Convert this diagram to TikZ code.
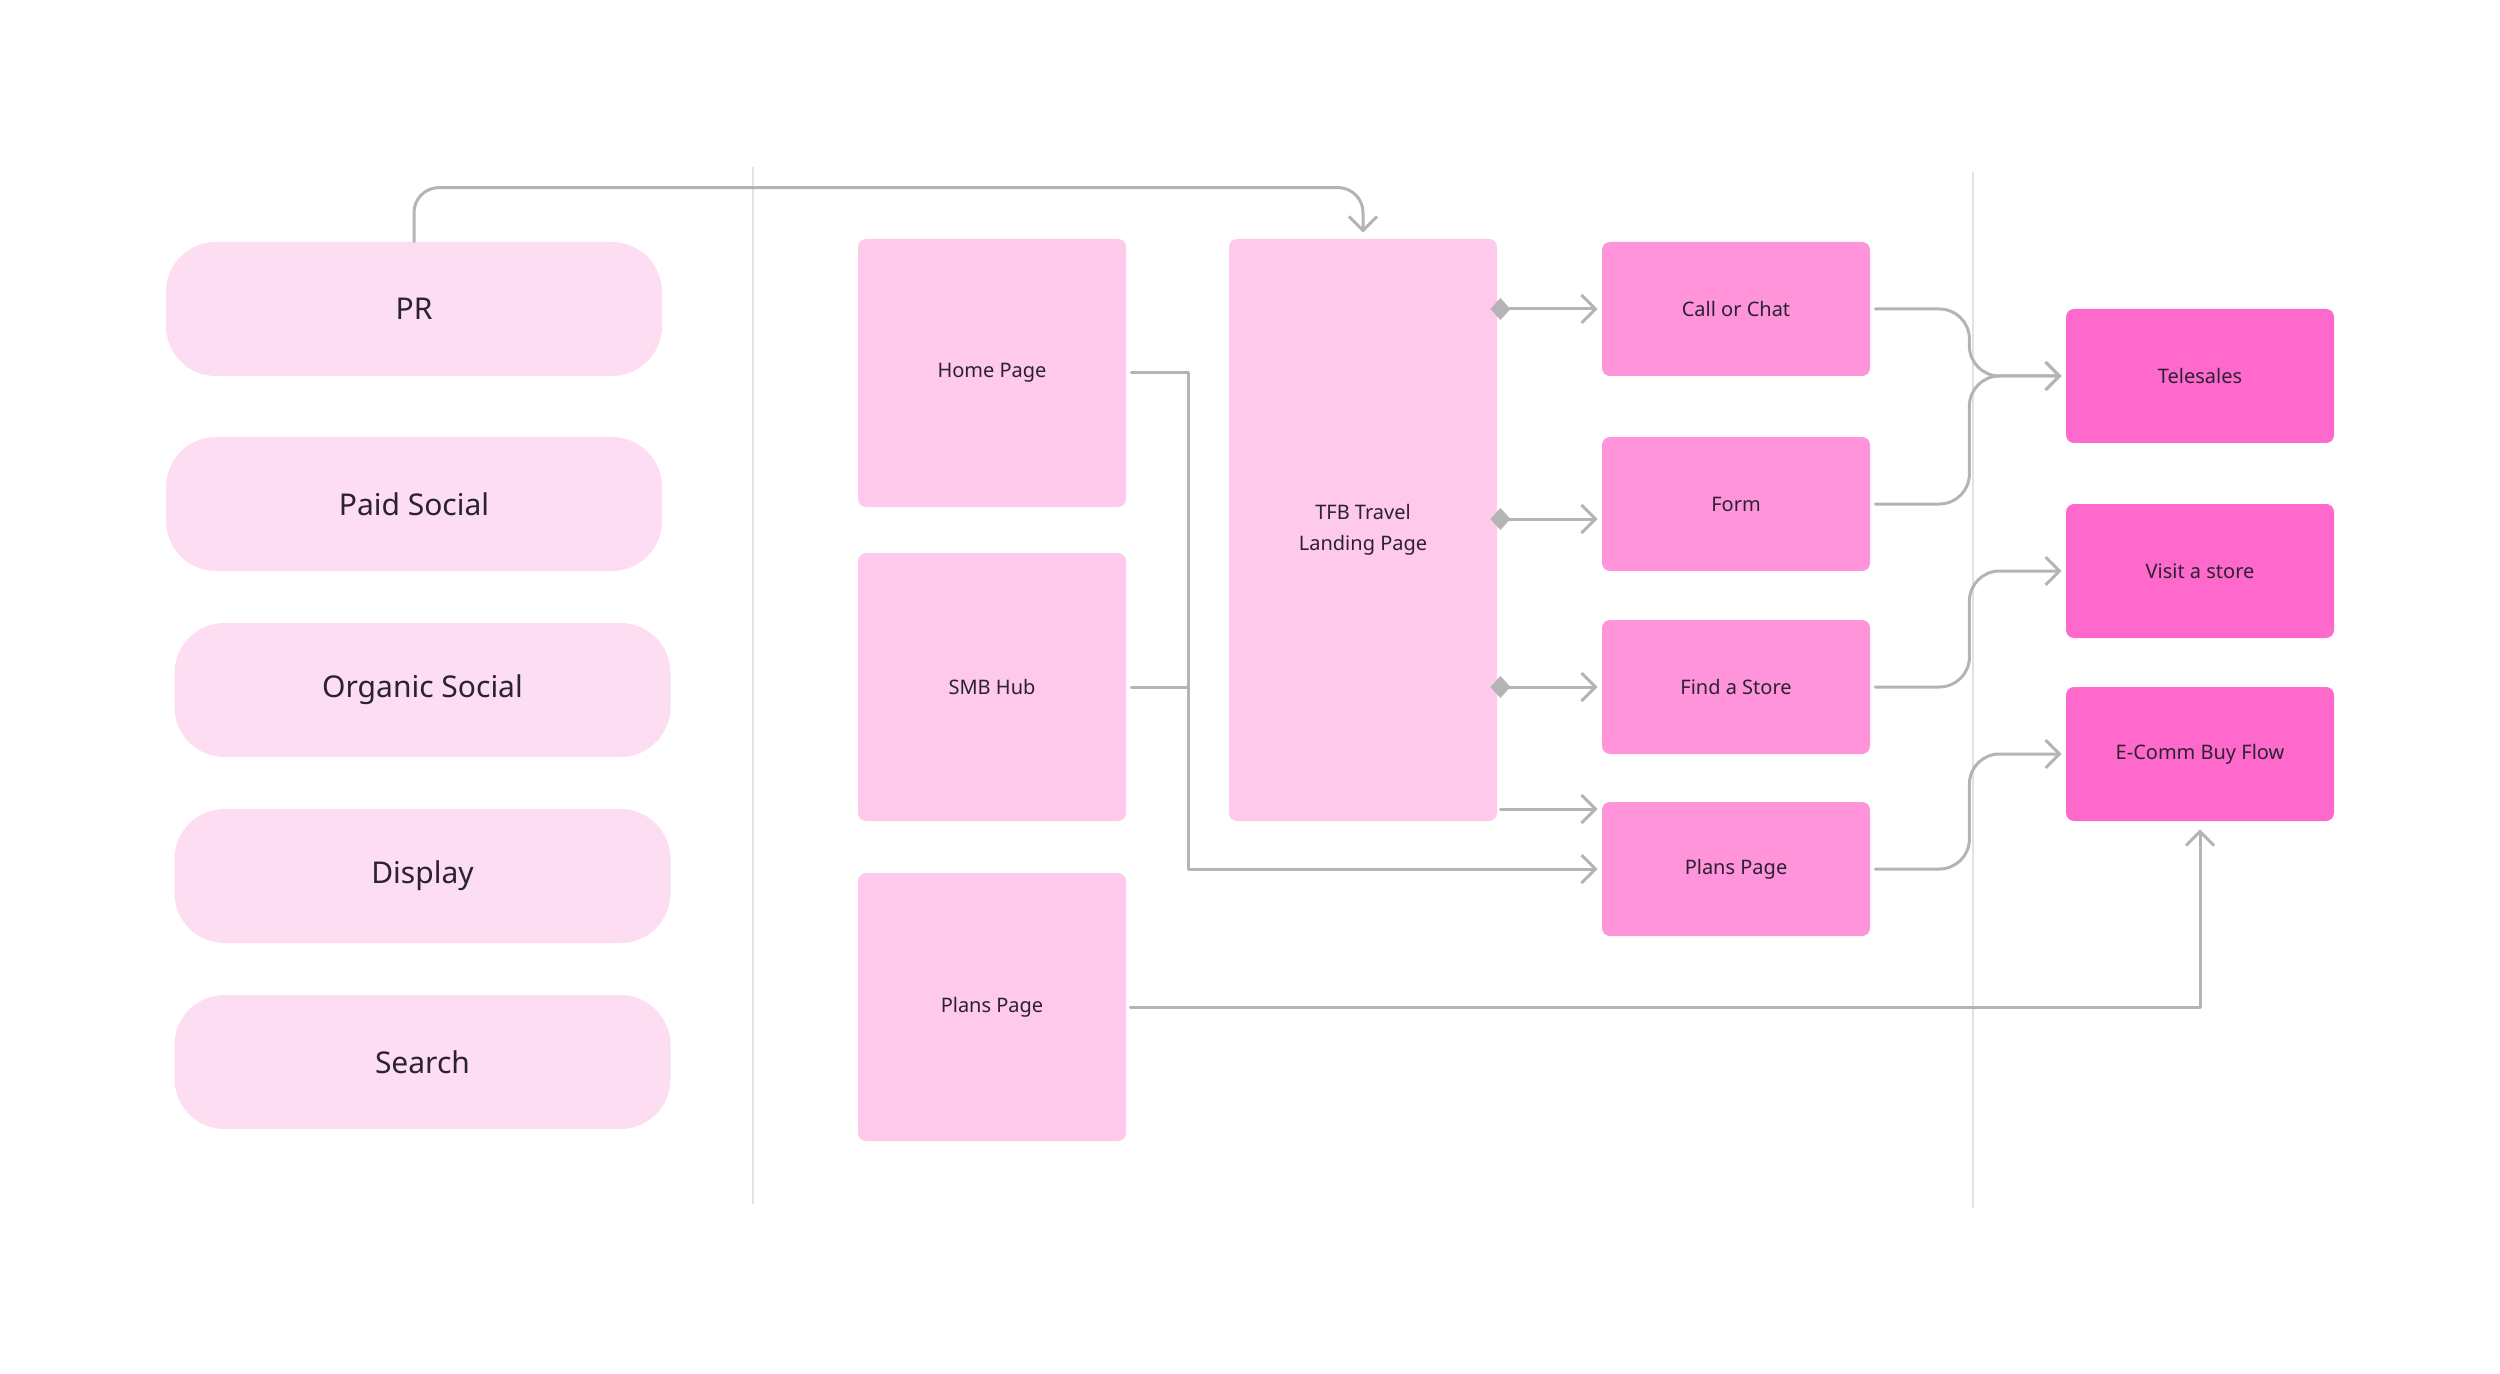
\documentclass[tikz,border=0pt]{standalone}
\usepackage{fontspec}
\setmainfont{Noto Sans}
\usetikzlibrary{arrows.meta}
\definecolor{pillc}{HTML}{FDDDF2}
\definecolor{pagec}{HTML}{FEC9EB}
\definecolor{actc}{HTML}{FF94DA}
\definecolor{destc}{HTML}{FF69CC}
\definecolor{linec}{HTML}{B4B4B4}
\definecolor{sepc}{HTML}{E2E2E2}
\definecolor{txtc}{HTML}{2A2233}
\begin{document}
\begin{tikzpicture}[x=0.5pt,y=-0.5pt,
  every node/.style={inner sep=0pt, text=txtc, align=center},
  pill/.style={fill=pillc, rounded corners=25pt, minimum width=248pt, minimum height=67pt, font=\fontsize{15}{18}\selectfont},
  pagebox/.style={fill=pagec, rounded corners=4pt, minimum width=134pt, minimum height=134pt, font=\fontsize{10}{15.5}\selectfont},
  actbox/.style={fill=actc, rounded corners=4pt, minimum width=134pt, minimum height=67pt, font=\fontsize{10}{15.5}\selectfont},
  destbox/.style={fill=destc, rounded corners=4pt, minimum width=134pt, minimum height=67pt, font=\fontsize{10}{15.5}\selectfont},
  conn/.style={draw=linec, line width=1.5pt, line cap=round, line join=round},
  arr/.style={conn, -{Straight Barb[length=7pt,width=14pt,line width=1.5pt]}},
  dia/.style={conn, {Diamond[length=10pt,width=11pt,fill=linec]}-{Straight Barb[length=7pt,width=14pt,line width=1.5pt]}},
  sep/.style={draw=sepc, line width=1.3pt}
]
\useasboundingbox (0,0) rectangle (2500,1374);

% separators
\draw[sep] (753,167) -- (753,1204);
\draw[sep] (1973,172) -- (1973,1208);

% sources
\node[pill] (pr) at (414,309) {PR};
\node[pill] (paid) at (414,504) {Paid Social};
\node[pill] (organic) at (422.5,690) {Organic Social};
\node[pill] (display) at (422.5,876) {Display};
\node[pill] (search) at (422.5,1062) {Search};

% pages
\node[pagebox] (home) at (992,373) {Home Page};
\node[pagebox] (smb) at (992,687) {SMB Hub};
\node[pagebox] (plansL) at (992,1007) {Plans Page};
\node[pagebox, minimum height=291pt] (tfb) at (1363,530) {TFB Travel\\Landing Page};

% actions
\node[actbox] (call) at (1736,309) {Call or Chat};
\node[actbox] (form) at (1736,504) {Form};
\node[actbox] (find) at (1736,687) {Find a Store};
\node[actbox] (plansR) at (1736,869) {Plans Page};

% destinations
\node[destbox] (tele) at (2200,376) {Telesales};
\node[destbox] (visit) at (2200,571) {Visit a store};
\node[destbox] (ecomm) at (2200,754) {E-Comm Buy Flow};

% PR to TFB
\draw[arr, rounded corners=12.5pt] (pr.north) -- ++(0,27pt) -| ([yshift=3pt]tfb.north);

% Home / SMB bus to Plans Page
\draw[arr] ([xshift=2.5pt]home.east) -- ++(28.5pt,0) |- ([xshift=-2pt]plansR.west);
\draw[conn] ([xshift=2.5pt]smb.east) -- ++(28.5pt,0);

% TFB to actions
\coordinate (formin) at ([yshift=-7.5pt]form.west);
\coordinate (plansin) at ([yshift=30pt]plansR.west);
\draw[dia] ([xshift=-3.5pt]tfb.east |- call.west) -- ([xshift=-2pt]call.west);
\draw[dia] ([xshift=-3.5pt]tfb.east |- formin) -- ([xshift=-2pt]formin);
\draw[dia] ([xshift=-3.5pt]tfb.east |- find.west) -- ([xshift=-2pt]find.west);
\draw[arr] ([xshift=1.5pt]tfb.east |- plansin) -- ([xshift=-2pt]plansin);

% actions to destinations
\draw[arr, rounded corners=15pt] ([xshift=2.5pt]call.east) -- ++(47pt,0) |- ([xshift=-2pt]tele.west);
\draw[arr, rounded corners=15pt] ([xshift=2.5pt]form.east) -- ++(47pt,0) |- ([xshift=-2pt]tele.west);
\draw[arr, rounded corners=15pt] ([xshift=2.5pt]find.east) -- ++(47pt,0) |- ([xshift=-2pt]visit.west);
\draw[arr, rounded corners=15pt] ([xshift=2.5pt]plansR.east) -- ++(47pt,0) |- ([xshift=-2pt]ecomm.west);

% Plans Page (left) to E-Comm
\draw[arr] ([xshift=2pt]plansL.east) -| ([yshift=-4pt]ecomm.south);
\end{tikzpicture}
\end{document}
